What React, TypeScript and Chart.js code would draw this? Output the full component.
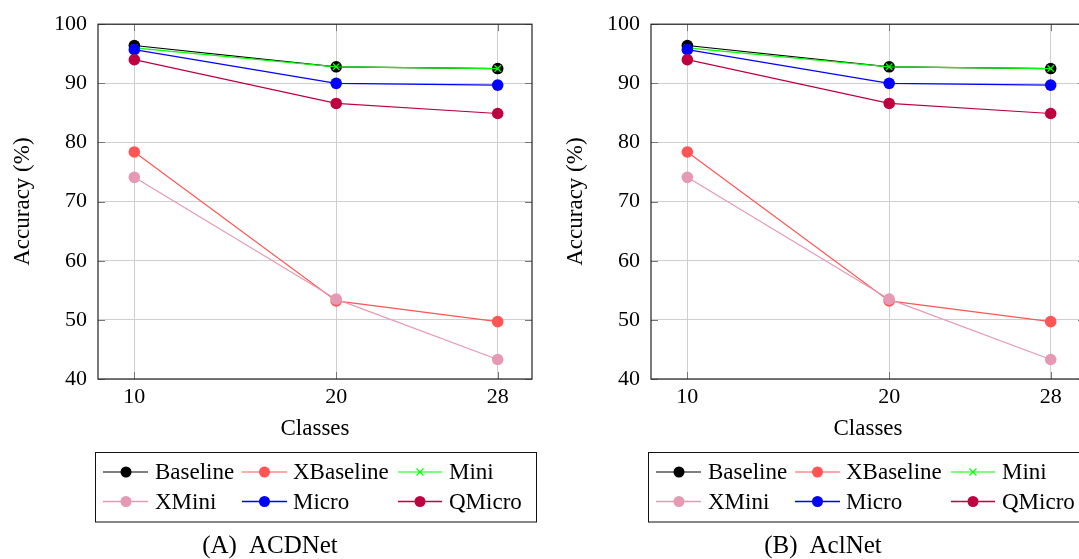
import React, { useEffect, useRef } from "react";
import { Chart, registerables } from "chart.js";

Chart.register(...registerables);

// ---------- data ----------
const classes = [10, 20, 28];
const xTicks = [10, 20, 28];
const yMin = 40;
const yMax = 100;
const yStep = 10;

const seriesNames = ["Baseline", "XBaseline", "Mini", "XMini", "Micro", "QMicro"];
const seriesColors = [
  "rgb(0,0,0)",
  "rgb(255,85,85)",
  "rgb(0,255,0)",
  "rgb(229,153,179)",
  "rgb(0,0,255)",
  "rgb(191,0,64)",
];
const seriesMarkers = ["circle", "circle", "crossRot", "circle", "circle", "circle"];

// (A) ACDNet
const acdBaseline = [96.4, 92.8, 92.5];
const acdXBaseline = [78.4, 53.2, 49.7];
const acdMini = [96.0, 92.8, 92.5];
const acdXMini = [74.1, 53.5, 43.3];
const acdMicro = [95.7, 90.0, 89.7];
const acdQMicro = [94.0, 86.6, 84.9];

// (B) AclNet
const aclBaseline = [96.4, 92.8, 92.5];
const aclXBaseline = [78.4, 53.2, 49.7];
const aclMini = [96.0, 92.8, 92.5];
const aclXMini = [74.1, 53.5, 43.3];
const aclMicro = [95.7, 90.0, 89.7];
const aclQMicro = [94.0, 86.6, 84.9];

const xTitle = "Classes";
const yTitle = "Accuracy (%)";

const FONT = "'Liberation Serif', 'Times New Roman', serif";
const CW = 553;
const CH = 559;
const XH = 66;

// ---------- plugins ----------
const framePlugin = {
  id: "frame",
  afterDatasetsDraw(chart: any) {
    const { ctx, chartArea } = chart;
    const { left, right, top, bottom } = chartArea;
    const xs = chart.scales.x;
    const ys = chart.scales.y;
    ctx.save();
    ctx.strokeStyle = "#777";
    ctx.lineWidth = 1;
    const tl = 7;
    ctx.beginPath();
    xs.ticks.forEach((t: any) => {
      const px = Math.round(xs.getPixelForValue(t.value)) + 0.5;
      ctx.moveTo(px, bottom);
      ctx.lineTo(px, bottom - tl);
      ctx.moveTo(px, top);
      ctx.lineTo(px, top + tl);
    });
    ys.ticks.forEach((t: any) => {
      const py = Math.round(ys.getPixelForValue(t.value)) + 0.5;
      ctx.moveTo(left, py);
      ctx.lineTo(left + tl, py);
      ctx.moveTo(right, py);
      ctx.lineTo(right - tl, py);
    });
    ctx.stroke();
    ctx.strokeStyle = "#222";
    ctx.lineWidth = 1.2;
    ctx.strokeRect(left, top, right - left, bottom - top);
    ctx.restore();
  },
};

const decorPlugin = {
  id: "decor",
  afterDraw(chart: any, _args: any, opts: any) {
    const { ctx } = chart;
    ctx.save();
    // legend box
    ctx.strokeStyle = "#111";
    ctx.lineWidth = 1;
    ctx.strokeRect(95.5, 452.5, 441, 69.5);
    const lineStart = [103, 242, 398];
    const lineEnd = [148, 287, 442];
    const markX = [126, 264.5, 420];
    const textX = [155, 293, 449];
    const rowY = [472, 501.5];
    ctx.font = `23px ${FONT}`;
    ctx.textBaseline = "middle";
    ctx.textAlign = "left";
    chart.data.datasets.forEach((ds: any, i: number) => {
      const c = i % 3;
      const r = Math.floor(i / 3);
      const y = rowY[r];
      ctx.strokeStyle = ds.borderColor;
      ctx.lineWidth = r === 0 ? 1.2 : 1.6;
      ctx.beginPath();
      ctx.moveTo(lineStart[c], y);
      ctx.lineTo(lineEnd[c], y);
      ctx.stroke();
      if (ds.pointStyle === "crossRot") {
        const s = 3.5;
        ctx.lineWidth = 1.2;
        ctx.beginPath();
        ctx.moveTo(markX[c] - s, y - s);
        ctx.lineTo(markX[c] + s, y + s);
        ctx.moveTo(markX[c] - s, y + s);
        ctx.lineTo(markX[c] + s, y - s);
        ctx.stroke();
      } else {
        ctx.fillStyle = ds.backgroundColor;
        ctx.beginPath();
        ctx.arc(markX[c], y, 5.5, 0, Math.PI * 2);
        ctx.fill();
      }
      ctx.fillStyle = "#000";
      ctx.fillText(ds.label, textX[c], y + 1);
    });
    // caption
    const [tag, name] = opts.caption || ["", ""];
    ctx.font = `25px ${FONT}`;
    const gap = 12;
    const w1 = ctx.measureText(tag).width;
    const w2 = ctx.measureText(name).width;
    const start = 270 - (w1 + gap + w2) / 2;
    ctx.fillStyle = "#000";
    ctx.fillText(tag, start, 546);
    ctx.fillText(name, start + w1 + gap, 546);
    ctx.restore();
  },
};

function buildConfig(series: number[][], caption: string[]): any {
  const datasets = seriesNames.map((name, i) => ({
    label: name,
    data: classes.map((x, j) => ({ x, y: series[i][j] })),
    borderColor: seriesColors[i],
    backgroundColor: seriesColors[i],
    pointBackgroundColor: seriesColors[i],
    pointBorderColor: seriesColors[i],
    pointStyle: seriesMarkers[i],
    pointRadius: seriesMarkers[i] === "crossRot" ? 4.5 : 5.8,
    pointBorderWidth: seriesMarkers[i] === "crossRot" ? 1.4 : 0,
    borderWidth: 1.2,
    tension: 0,
    fill: false,
    order: seriesNames.length - i,
  }));
  const tickFont = { family: FONT, size: 22 };
  const titleFont = { family: FONT, size: 23 };
  return {
    type: "line",
    data: { datasets },
    options: {
      responsive: false,
      maintainAspectRatio: false,
      animation: false,
      devicePixelRatio: 1,
      layout: { padding: { left: 0, top: 21, right: CW - 532, bottom: CH - 379 - XH } },
      plugins: {
        legend: { display: false },
        tooltip: { enabled: false },
        decor: { caption },
      },
      scales: {
        x: {
          type: "linear",
          min: 8.2,
          max: 29.7,
          afterBuildTicks: (s: any) => {
            s.ticks = xTicks.map((v) => ({ value: v }));
          },
          afterFit: (s: any) => {
            s.height = XH;
          },
          ticks: { color: "#000", font: tickFont, padding: 5, maxRotation: 0, autoSkip: false },
          grid: { color: "#cfcfcf", lineWidth: 1, drawTicks: false },
          border: { display: false },
          title: {
            display: true,
            text: xTitle,
            color: "#000",
            font: titleFont,
            padding: { top: 0, bottom: 2 },
          },
        },
        y: {
          type: "linear",
          min: yMin,
          max: yMax,
          afterFit: (s: any) => {
            s.width = 98;
          },
          ticks: { stepSize: yStep, color: "#000", font: tickFont, padding: 11 },
          grid: { color: "#cfcfcf", lineWidth: 1, drawTicks: false },
          border: { display: false },
          title: {
            display: true,
            text: yTitle,
            color: "#000",
            font: titleFont,
            padding: { top: 9, bottom: 0 },
          },
        },
      },
    },
    plugins: [framePlugin, decorPlugin],
  };
}

function ChartPanel({ left, series, caption }: { left: number; series: number[][]; caption: string[] }) {
  const ref = useRef<HTMLCanvasElement | null>(null);
  useEffect(() => {
    if (!ref.current) return;
    const chart = new Chart(ref.current, buildConfig(series, caption));
    return () => chart.destroy();
  }, []);
  return (
    <canvas
      ref={ref}
      width={CW}
      height={CH}
      style={{ position: "absolute", left, top: 0, width: CW, height: CH, display: "block" }}
    />
  );
}

export default function App() {
  const acd = [acdBaseline, acdXBaseline, acdMini, acdXMini, acdMicro, acdQMicro];
  const acl = [aclBaseline, aclXBaseline, aclMini, aclXMini, aclMicro, aclQMicro];
  return (
    <div
      style={{
        position: "fixed",
        left: 0,
        top: 0,
        width: 1079,
        height: 559,
        overflow: "hidden",
        background: "#fff",
      }}
    >
      <ChartPanel left={0} series={acd} caption={["(A)", "ACDNet"]} />
      <ChartPanel left={553} series={acl} caption={["(B)", "AclNet"]} />
    </div>
  );
}
